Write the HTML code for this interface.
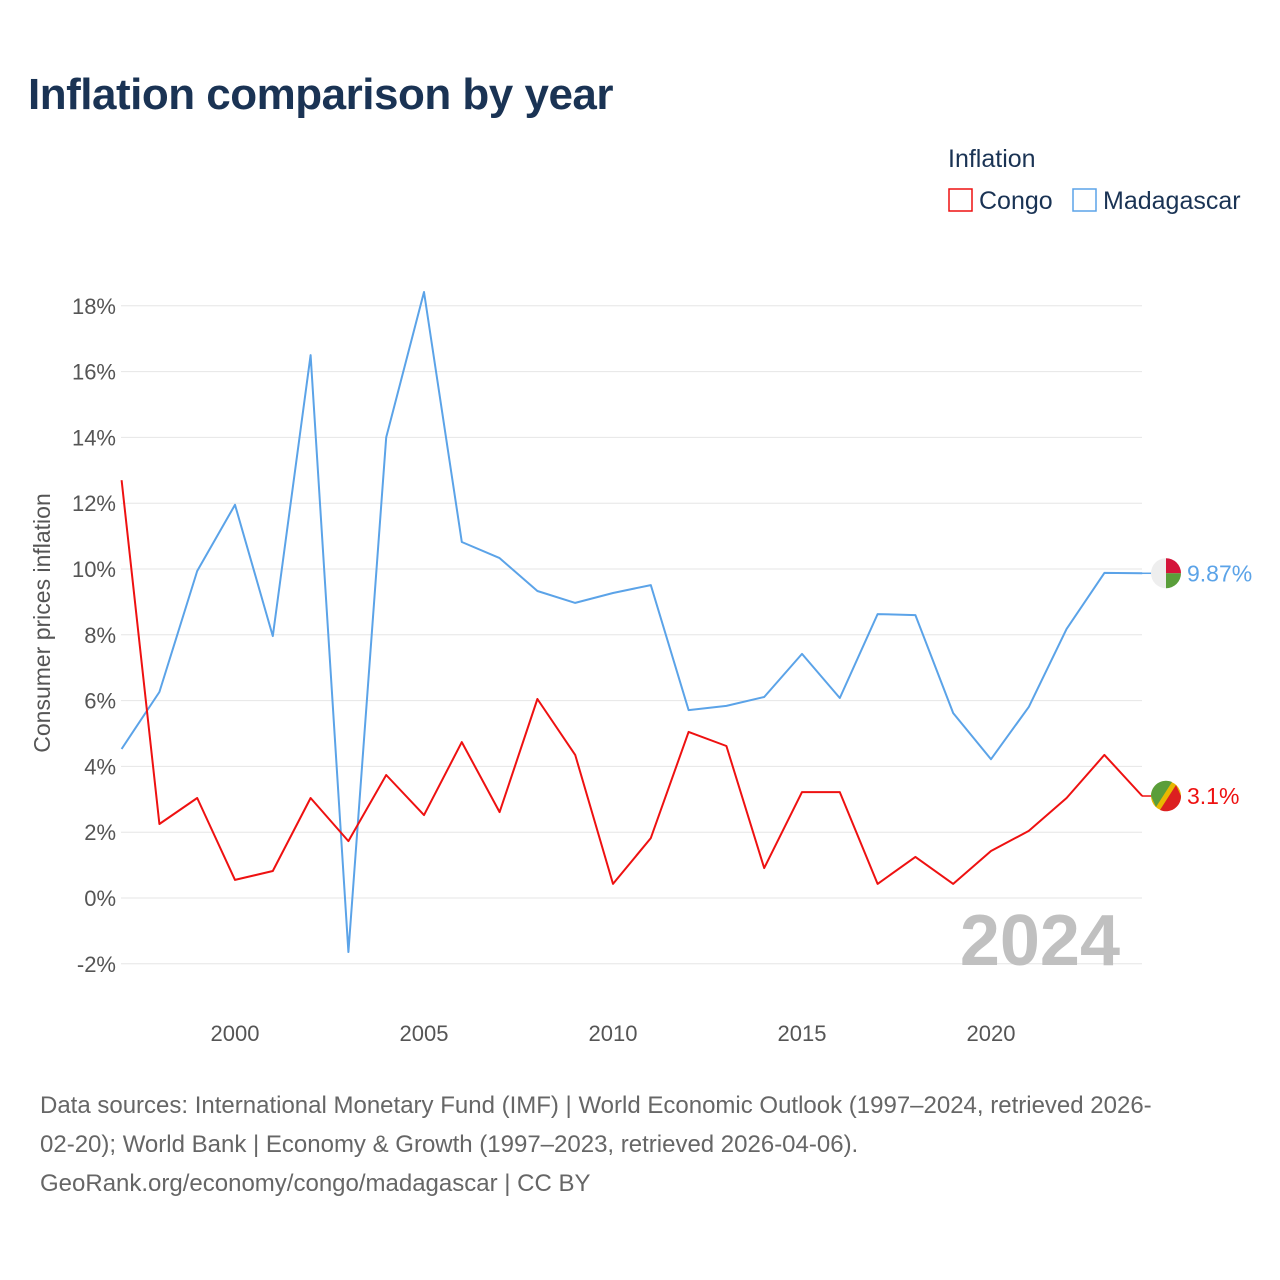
<!DOCTYPE html>
<html><head><meta charset="utf-8"><style>
body{margin:0;background:#fff;font-family:"Liberation Sans",sans-serif;}
#wrap{position:relative;width:1280px;height:1280px;overflow:hidden;}
h1{position:absolute;left:28px;top:70px;margin:0;font-size:44px;font-weight:bold;color:#1a3354;letter-spacing:-0.5px;}
.src{position:absolute;left:40px;top:1086px;width:1230px;font-size:24px;line-height:39px;color:#666;white-space:nowrap;}
</style></head><body>
<div id="wrap">
<h1>Inflation comparison by year</h1>
<svg id="chart" width="1280" height="1280" style="position:absolute;left:0;top:0"></svg>
<div class="src">Data sources: International Monetary Fund (IMF) | World Economic Outlook (1997–2024, retrieved 2026-<br>02-20); World Bank | Economy &amp; Growth (1997–2023, retrieved 2026-04-06).<br>GeoRank.org/economy/congo/madagascar | CC BY</div>
</div>
<script>
const years=[1997,1998,1999,2000,2001,2002,2003,2004,2005,2006,2007,2008,2009,2010,2011,2012,2013,2014,2015,2016,2017,2018,2019,2020,2021,2022,2023,2024];
const congo=[12.7,2.25,3.04,0.55,0.82,3.04,1.73,3.74,2.52,4.74,2.61,6.05,4.35,0.43,1.82,5.05,4.62,0.91,3.22,3.22,0.43,1.25,0.43,1.43,2.04,3.04,4.35,3.1];
const madagascar=[4.53,6.26,9.94,11.95,7.96,16.5,-1.64,14.0,18.42,10.82,10.33,9.33,8.97,9.27,9.51,5.71,5.84,6.11,7.42,6.08,8.63,8.6,5.62,4.22,5.81,8.18,9.88,9.87];
const yTicks=[-2,0,2,4,6,8,10,12,14,16,18];
const xTicks=[2000,2005,2010,2015,2020];
const NS="http://www.w3.org/2000/svg";
const svg=document.getElementById('chart');
const x=v=>121.6+(v-1997)*37.8;
const y=v=>898-32.9*v;
function mk(t,a,txt){const e=document.createElementNS(NS,t);for(const k in a)e.setAttribute(k,a[k]);if(txt!==undefined)e.textContent=txt;svg.appendChild(e);return e;}
yTicks.forEach(t=>{
 const g=mk('line',{x1:121,x2:1142,y1:y(t),y2:y(t),stroke:'#e6e6e6','stroke-width':1});
 
 
 const l=mk('text',{x:116,y:y(t)+8,'text-anchor':'end','font-size':22,fill:'#555','font-family':'Liberation Sans, sans-serif'},t+'%');
 
 
});
xTicks.forEach(t=>{
 const l=mk('text',{x:x(t),y:1041,'text-anchor':'middle','font-size':22,fill:'#555','font-family':'Liberation Sans, sans-serif'},t);
 
 
});
const yt=mk('text',{x:0,y:0,transform:'translate(50,623) rotate(-90)','text-anchor':'middle','font-size':23,fill:'#555','font-family':'Liberation Sans, sans-serif'},'Consumer prices inflation');


const yr=mk('text',{x:1120,y:965,'text-anchor':'end','font-size':72,'font-weight':'bold',fill:'#c0c0c0','font-family':'Liberation Sans, sans-serif'},'2024');


function series(vals,color,name){
 const d=vals.map((v,i)=>(i?'L':'M')+x(years[i]).toFixed(1)+','+y(v).toFixed(1)).join('');
 const p=mk('path',{d:d,fill:'none',stroke:color,'stroke-width':2,'stroke-linejoin':'round'});
 
 
}
series(madagascar,'#5ba3e8','madagascar');
series(congo,'#ee1111','congo');
const lm=madagascar[madagascar.length-1], lc=congo[congo.length-1];
const cx=1166;
const m1=mk('circle',{cx:cx,cy:y(lm),r:15,fill:'#eee'});


mk('path',{d:`M${cx},${y(lm)} L${cx},${y(lm)-15} A15,15 0 0 1 ${cx+15},${y(lm)} Z`,fill:'#d4143a'});
mk('path',{d:`M${cx},${y(lm)} L${cx+15},${y(lm)} A15,15 0 0 1 ${cx},${y(lm)+15} Z`,fill:'#5a9e3a'});
const m2=mk('circle',{cx:cx,cy:y(lc),r:15,fill:'#e8b800'});


mk('path',{d:`M${cx-15},${y(lc)} A15,15 0 0 1 ${cx+6},${y(lc)-14} L${cx-10},${y(lc)+11} Z`,fill:'#5a9e3a'});
mk('path',{d:`M${cx+15},${y(lc)} A15,15 0 0 1 ${cx-6},${y(lc)+14} L${cx+10},${y(lc)-11} Z`,fill:'#dc2020'});
mk('line',{x1:1142,x2:1151,y1:y(lm),y2:y(lm),stroke:'#5ba3e8','stroke-width':1.5});
mk('line',{x1:1142,x2:1151,y1:y(lc),y2:y(lc),stroke:'#ee1111','stroke-width':1.5});
const v1=mk('text',{x:1187,y:y(lm)+8,'font-size':23,fill:'#5ba3e8','font-family':'Liberation Sans, sans-serif'},lm+'%');


const v2=mk('text',{x:1187,y:y(lc)+8,'font-size':23,fill:'#ee1111','font-family':'Liberation Sans, sans-serif'},lc+'%');


const lt=mk('text',{x:948,y:167,'font-size':25,fill:'#1a3354','font-family':'Liberation Sans, sans-serif'},'Inflation');


const r1=mk('rect',{x:949,y:189,width:23,height:22,fill:'#fff',stroke:'#ee1111','stroke-width':1.5});


const t1=mk('text',{x:979,y:209,'font-size':25,fill:'#1a3354','font-family':'Liberation Sans, sans-serif'},'Congo');


const r2=mk('rect',{x:1073,y:189,width:23,height:22,fill:'#fff',stroke:'#5ba3e8','stroke-width':1.5});


const t2=mk('text',{x:1103,y:209,'font-size':25,fill:'#1a3354','font-family':'Liberation Sans, sans-serif'},'Madagascar');


</script>
</body></html>
